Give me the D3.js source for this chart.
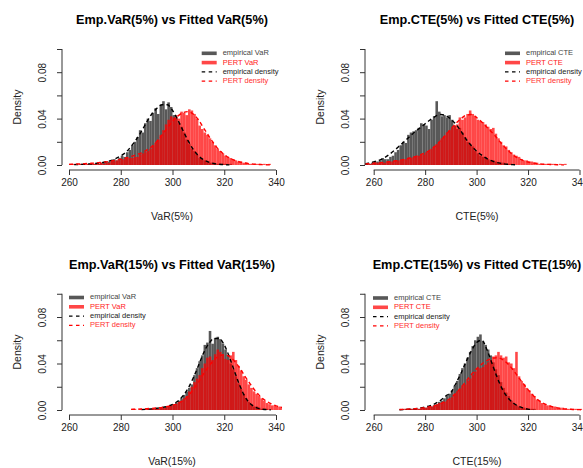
<!DOCTYPE html>
<html>
<head>
<meta charset="utf-8">
<script src="https://cdn.jsdelivr.net/npm/d3@7"></script>
<style>
  body { margin: 0; background: #fff; }
  svg { display: block; }
  text { font-family: "Liberation Sans", Arial, Helvetica, sans-serif; }
</style>
</head>
<body>
<div id="chart"></div>
<script>
// histogram heights and density values are density x 1000, bins are 1 unit wide
// density curves are sampled every 2 units from their start value

// VaR(5%)
const var5EmpStart = 262;
const var5Emp = [0,0,1,0,0,1,1,1,1,1,2,2,3,3,4,5,4,6,8,7,11,13,17,20,24,30,28,36,40,38,
  45,49,44,52,55,48,54,50,43,40,36,33,28,22,18,14,12,9,6,5,4,3,2,2,1,1,1,1,1,0,1];
const var5PertStart = 260;
const var5Pert = [1,1,1,0,1,1,1,1,1,1,1,1,2,1,2,2,3,3,4,4,5,5,6,6,6,7,7,9,10,11,
  12,14,17,19,22,26,30,35,39,42,41,43,40,46,45,43,48,47,44,40,34,31,28,26,23,20,17,14,12,10,
  8,7,6,5,4,3,3,2,2,1,1,1,1,1,0,1,0,1];
const var5EmpDensStart = 262;
const var5EmpDens = [0.3,0.5,0.7,1.0,1.3,1.8,2.6,3.8,5.5,7.8,11,16,22,29,37,44,49,52,52,47,
  39,30,21,13.5,8,4.5,2.5,1.3,0.7,0.3,0.1];
const var5PertDensStart = 260;
const var5PertDens = [0.5,0.7,0.9,1.1,1.4,1.7,2.1,2.6,3.2,4,5,6,7.3,8.8,10.5,12.8,16,20.5,26,32,
  37.5,42,45,46,44,39,32,25,18.5,13,9,6,4,2.6,1.7,1.1,0.7,0.4,0.2,0.1];

// CTE(5%)
const cte5EmpStart = 256;
const cte5Emp = [1,1,1,2,3,3,4,6,5,5,7,8,11,13,17,20,19,26,28,29,30,32,36,35,34,31,39,42,55,46,
  42,43,41,43,39,34,31,32,28,24,20,18,16,12,10,8,7,7,5,4,4,3,2,2,2,1,1,1];
const cte5PertStart = 255;
const cte5Pert = [1,1,1,1,1,1,2,2,2,2,3,3,3,4,4,4,5,5,6,6,7,7,8,9,9,11,12,14,16,18,
  20,23,25,28,30,32,34,35,41,39,41,44,47,44,42,39,38,37,35,33,31,32,27,23,20,17,16,13,11,9,
  8,7,5,4,4,3,3,2,2,1,1,1,1,1,1,1,0,1,0,1];
const cte5EmpDensStart = 254;
const cte5EmpDens = [0.3,0.8,1.5,2.7,4,6,9,12.5,16.5,20.5,24.5,28.5,32,35.5,39,42,43.5,42.5,39.5,35,
  29,22,16.5,12,8.5,5.5,3.5,2,1.2,0.6,0.3,0.1];
const cte5PertDensStart = 254;
const cte5PertDens = [0.6,0.9,1.2,1.5,1.9,2.3,2.8,3.4,4.1,5,6,7.2,8.7,10.5,13,16.5,21,26,31,36,
  40,43,43.5,41,37,32.5,28,23,17.5,13,9,6,4,2.6,1.7,1.1,0.7,0.5,0.3,0.2,0.1];

// VaR(15%)
const var15EmpStart = 290;
const var15Emp = [1,1,1,1,1,2,2,3,3,4,5,6,8,10,13,16,19,22,30,36,
  42,47,56,58,68,57,62,63,61,57,52,47,40,35,29,23,18,14,10,7,5,3,3,2,1,1,1];
const var15PertStart = 284;
const var15Pert = [1,1,0,1,1,1,1,1,1,1,1,2,2,2,3,4,4,5,7,8,10,12,16,20,24,27,
  30,36,40,45,46,43,48,52,50,47,44,43,47,50,43,38,34,29,26,22,19,16,14,12,10,8,6,5,4,4,3,3,2,2];
const var15EmpDensStart = 288;
const var15EmpDens = [0.3,0.6,1,1.5,2.2,3.2,4.8,7.5,12,18.5,27.5,38,49,57,61.5,61.5,56,45.5,33,21,
  11.5,5.5,2.5,1,0.4,0.1];
const var15PertDensStart = 284;
const var15PertDens = [0.5,0.7,0.9,1.1,1.4,1.8,2.3,3,4,5.5,8,12,17.5,24,31,37.5,43,46.5,47.5,46,
  42,36,29,22.5,16.5,11.5,8,5.5,3.6,2.3,1.5];

// CTE(15%)
const cte15EmpStart = 272;
const cte15Emp = [1,0,1,1,1,1,1,2,2,3,3,4,5,7,8,10,12,14,17,21,25,31,36,40,45,50,55,60,63,65,
  59,56,52,47,41,35,30,24,19,15,12,8,6,4,3,2,2,1,1,1,1];
const cte15PertStart = 271;
const cte15Pert = [1,1,0,1,1,1,1,1,2,2,2,3,4,4,6,6,7,8,9,11,14,16,18,21,22,25,27,30,33,36,
  36,37,39,41,43,46,47,50,47,45,46,41,40,36,50,29,25,22,19,17,14,12,9,8,6,5,4,4,3,3,
  2,2,2,1,1,1,1,1,1,1];
const cte15EmpDensStart = 270;
const cte15EmpDens = [0.2,0.4,0.7,1.1,1.7,2.6,3.8,5.6,8.3,12,15,23,32,42,51,58,60,52,40,28,
  18,11,6.5,3.5,1.8,0.8,0.3];
const cte15PertDensStart = 270;
const cte15PertDens = [0.4,0.6,0.8,1.1,1.5,2,2.8,3.9,5.5,7.5,10.5,14.5,19.5,25,30.5,35.5,39.5,42.5,44.5,45,
  43.5,40,35,29,23,17.5,12.5,8.5,5.8,3.8,2.5,1.6,1,0.7,0.4,0.3,0.2,0.1];

const xTicks = [260, 280, 300, 320, 340];
const yTicks = [0, 0.02, 0.04, 0.06, 0.08, 0.10];
const yTickLabels = ["0.00", "", "0.04", "", "0.08", ""];

const GREY = "#585858";
const RED = "#ff0000";

const width = 583, height = 468;

const svg = d3.select("#chart").append("svg")
  .attr("width", width)
  .attr("height", height);

const panels = [
  {
    title: "Emp.VaR(5%) vs Fitted VaR(5%)", xLabel: "VaR(5%)",
    names: ["empirical VaR", "PERT VaR", "empirical density", "PERT density"],
    emp: [var5EmpStart, var5Emp], pert: [var5PertStart, var5Pert],
    empDens: [var5EmpDensStart, var5EmpDens], pertDens: [var5PertDensStart, var5PertDens],
    xr: [69, 276], yr: [165, 49], clip: [62, 44, 282, 170],
    titleX: 172, titleY: 23.5, legend: [201.7, 53.3]
  },
  {
    title: "Emp.CTE(5%) vs Fitted CTE(5%)", xLabel: "CTE(5%)",
    names: ["empirical CTE", "PERT CTE", "empirical density", "PERT density"],
    emp: [cte5EmpStart, cte5Emp], pert: [cte5PertStart, cte5Pert],
    empDens: [cte5EmpDensStart, cte5EmpDens], pertDens: [cte5PertDensStart, cte5PertDens],
    xr: [373.7, 579.5], yr: [165, 49], clip: [365, 44, 589, 170],
    titleX: 477, titleY: 23.5, legend: [505, 53.3]
  },
  {
    title: "Emp.VaR(15%) vs Fitted VaR(15%)", xLabel: "VaR(15%)",
    names: ["empirical VaR", "PERT VaR", "empirical density", "PERT density"],
    emp: [var15EmpStart, var15Emp], pert: [var15PertStart, var15Pert],
    empDens: [var15EmpDensStart, var15EmpDens], pertDens: [var15PertDensStart, var15PertDens],
    xr: [69, 276], yr: [410, 293.75], clip: [62, 289, 282, 415],
    titleX: 172, titleY: 268.5, legend: [69, 297.5]
  },
  {
    title: "Emp.CTE(15%) vs Fitted CTE(15%)", xLabel: "CTE(15%)",
    names: ["empirical CTE", "PERT CTE", "empirical density", "PERT density"],
    emp: [cte15EmpStart, cte15Emp], pert: [cte15PertStart, cte15Pert],
    empDens: [cte15EmpDensStart, cte15EmpDens], pertDens: [cte15PertDensStart, cte15PertDens],
    xr: [373.7, 579.5], yr: [410, 293.75], clip: [365, 289, 589, 415],
    titleX: 477, titleY: 268.5, legend: [373, 298]
  }
];

panels.forEach((p, pi) => {
  const x = d3.scaleLinear().domain([260, 340]).range(p.xr);
  const y = d3.scaleLinear().domain([0, 0.1]).range(p.yr);
  const [cx0, cy0, cx1, cy1] = p.clip;

  svg.append("clipPath").attr("id", `clip-${pi}`)
    .append("rect")
    .attr("x", cx0).attr("y", cy0)
    .attr("width", cx1 - cx0).attr("height", cy1 - cy0);

  const g = svg.append("g");
  const plot = g.append("g").attr("clip-path", `url(#clip-${pi})`);

  // histograms
  function bins(start, vals) {
    return vals.map((v, i) => ({ x0: start + i, x1: start + i + 1, d: v / 1000 }))
      .filter((b) => b.d > 0);
  }

  plot.append("g").selectAll("rect")
    .data(bins(p.emp[0], p.emp[1]))
    .join("rect")
    .attr("x", (b) => x(b.x0))
    .attr("width", (b) => x(b.x1) - x(b.x0))
    .attr("y", (b) => y(b.d))
    .attr("height", (b) => y(0) - y(b.d))
    .attr("fill", GREY);

  plot.append("g").selectAll("rect")
    .data(bins(p.pert[0], p.pert[1]))
    .join("rect")
    .attr("x", (b) => x(b.x0))
    .attr("width", (b) => x(b.x1) - x(b.x0))
    .attr("y", (b) => y(b.d))
    .attr("height", (b) => y(0) - y(b.d))
    .attr("fill", RED)
    .attr("fill-opacity", 0.72);

  // density curves
  const line = d3.line()
    .x((d) => x(d[0]))
    .y((d) => y(d[1]))
    .curve(d3.curveMonotoneX);

  function pts(start, vals) {
    return vals.map((v, i) => [start + 2 * i, v / 1000]);
  }

  plot.append("path")
    .datum(pts(p.empDens[0], p.empDens[1]))
    .attr("d", line)
    .attr("fill", "none")
    .attr("stroke", "#000")
    .attr("stroke-width", 1.4)
    .attr("stroke-dasharray", "4,3");

  plot.append("path")
    .datum(pts(p.pertDens[0], p.pertDens[1]))
    .attr("d", line)
    .attr("fill", "none")
    .attr("stroke", RED)
    .attr("stroke-width", 1.4)
    .attr("stroke-dasharray", "4,3");

  // x axis, R style
  const xAxisY = cy1;
  const xa = g.append("g").attr("transform", `translate(0,${xAxisY})`)
    .call(d3.axisBottom(x).tickValues(xTicks).tickSize(5).tickSizeOuter(0).tickPadding(4));
  xa.select(".domain").attr("d", `M${x(260)},0H${x(340)}`).attr("stroke", "#333");
  xa.selectAll(".tick line").attr("stroke", "#333");
  xa.selectAll(".tick text").attr("font-size", 10).attr("fill", "#222")
    .attr("font-family", "Liberation Sans, Arial, sans-serif");

  // y axis
  const ya = g.append("g").attr("transform", `translate(${cx0},0)`)
    .call(d3.axisLeft(y).tickValues(yTicks).tickSize(5).tickSizeOuter(0)
      .tickFormat((d, i) => yTickLabels[i]));
  ya.select(".domain").attr("d", `M0,${y(0)}V${y(0.1)}`).attr("stroke", "#333");
  ya.selectAll(".tick line").attr("stroke", "#333");
  ya.selectAll(".tick text")
    .attr("font-size", 10).attr("fill", "#222")
    .attr("font-family", "Liberation Sans, Arial, sans-serif")
    .attr("text-anchor", "middle")
    .attr("dy", null)
    .attr("x", null)
    .attr("transform", "translate(-18.5,0) rotate(-90)")
    .attr("dominant-baseline", "middle");

  // title and axis labels
  g.append("text")
    .attr("x", p.titleX).attr("y", p.titleY)
    .attr("text-anchor", "middle")
    .attr("font-size", 12.7).attr("font-weight", "bold").attr("fill", "#000")
    .text(p.title);

  g.append("text")
    .attr("x", (cx0 + cx1) / 2).attr("y", xAxisY + 47)
    .attr("text-anchor", "middle").attr("dominant-baseline", "middle")
    .attr("font-size", 10.5).attr("fill", "#222")
    .text(p.xLabel);

  g.append("text")
    .attr("transform", `translate(${cx0 - 44},${(cy0 + cy1) / 2}) rotate(-90)`)
    .attr("text-anchor", "middle").attr("dominant-baseline", "middle")
    .attr("font-size", 10.5).attr("fill", "#222")
    .text("Density");

  // legend
  const [lx, ly] = p.legend;
  const step = 9.3;
  const lg = g.append("g");
  const legendCols = ["#444", "#ff2020", "#222", "#ff3030"];
  p.names.forEach((name, i) => {
    const yy = ly + i * step;
    if (i < 2) {
      lg.append("rect")
        .attr("x", lx).attr("y", yy - 1.8)
        .attr("width", 15).attr("height", 3.6)
        .attr("fill", i === 0 ? GREY : RED)
        .attr("fill-opacity", i === 0 ? 1 : 0.72);
    } else {
      lg.append("line")
        .attr("x1", lx).attr("x2", lx + 15)
        .attr("y1", yy).attr("y2", yy)
        .attr("stroke", i === 2 ? "#000" : RED)
        .attr("stroke-width", 1.2)
        .attr("stroke-dasharray", "3.5,3.5");
    }
    lg.append("text")
      .attr("x", lx + 21).attr("y", yy)
      .attr("dominant-baseline", "middle")
      .attr("font-size", 7.5)
      .attr("fill", legendCols[i])
      .text(name);
  });
});
</script>
</body>
</html>
